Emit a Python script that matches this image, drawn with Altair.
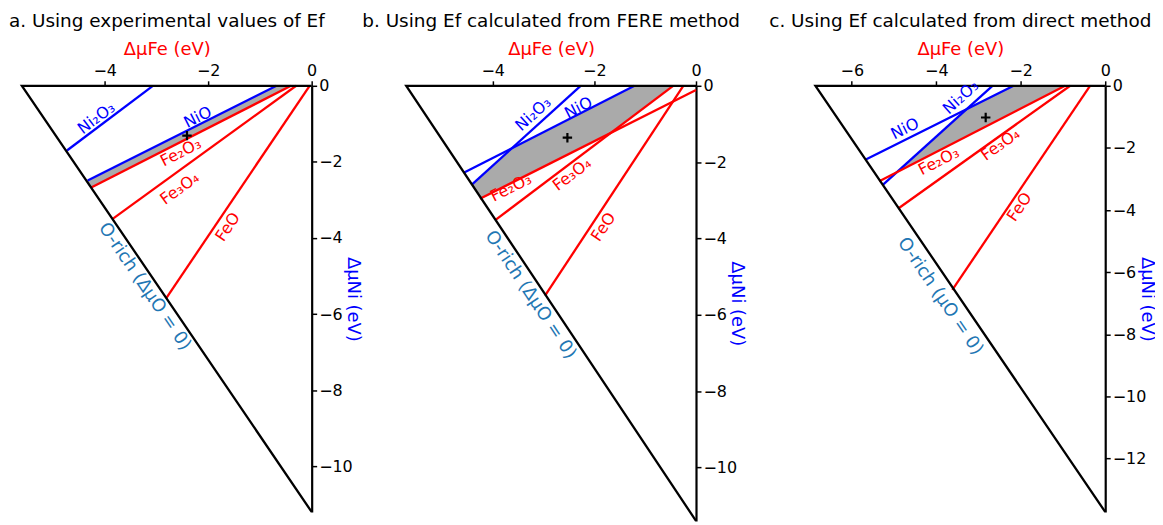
import math
import altair as alt
import pandas as pd

# ---------------- values ----------------
panel_titles = [
    "a. Using experimental values of Ef",
    "b. Using Ef calculated from FERE method",
    "c. Using Ef calculated from direct method",
]
fe_axis_title = "ΔμFe (eV)"
ni_axis_title = "ΔμNi (eV)"
o_rich_labels = ["O-rich (ΔμO = 0)", "O-rich (ΔμO = 0)", "O-rich (μO = 0)"]

# triangle corners (ΔμFe at ΔμNi = 0, ΔμNi at ΔμFe = 0)
fe_limit = [-5.6, -5.7, -6.86]
ni_limit = [-11.2, -11.4, -13.72]

fe_ticks = [[-4, -2, 0], [-4, -2, 0], [-6, -4, -2, 0]]
ni_ticks = [[0, -2, -4, -6, -8, -10], [0, -2, -4, -6, -8, -10],
            [0, -2, -4, -6, -8, -10, -12]]

compounds = ["Ni₂O₃", "NiO", "Fe₂O₃", "Fe₃O₄", "FeO"]
compound_metal = ["Ni", "Ni", "Fe", "Fe", "Fe"]

# boundary lines: start on the O-rich edge, end on an axis
a_start_fe = [-4.73, -4.33, -4.27, -3.84, -2.81]
a_start_ni = [-1.70, -2.49, -2.68, -3.49, -5.58]
a_end_fe = [-3.07, -0.68, -0.40, -0.30, -0.04]
a_end_ni = [0.0, 0.0, 0.0, 0.0, 0.0]

b_start_fe = [-4.41, -4.57, -4.25, -3.95, -2.97]
b_start_ni = [-2.59, -2.28, -2.96, -3.52, -5.50]
b_end_fe = [-2.27, -1.21, 0.0, -0.45, -0.25]
b_end_ni = [0.0, 0.0, -0.11, 0.0, 0.0]

c_start_fe = [-5.26, -5.68, -5.35, -4.90, -3.62]
c_start_ni = [-3.18, -2.38, -3.07, -3.95, -6.57]
c_end_fe = [-2.67, -2.17, -0.95, -0.83, -0.36]
c_end_ni = [0.0, 0.0, 0.0, 0.0, 0.0]

# compound label anchors
a_label_fe = [-4.16, -2.20, -2.53, -2.55, -1.62]
a_label_ni = [-0.85, -0.83, -1.75, -2.70, -3.71]
b_label_fe = [-3.20, -2.31, -3.64, -2.44, -1.82]
b_label_ni = [-0.74, -0.58, -2.67, -2.32, -3.70]
c_label_fe = [-3.42, -4.74, -3.94, -2.48, -2.03]
c_label_ni = [-0.37, -1.39, -2.43, -1.89, -3.90]

o_rich_fe = [-3.23, -3.26, -3.91]
o_rich_ni = [-5.28, -5.48, -6.78]

marker_fe = [-2.41, -2.53, -2.83]
marker_ni = [-1.31, -1.36, -1.02]

# ---------------- styling ----------------
FONT = "DejaVu Sans"
RED = "#ff0000"
BLUE = "#0000ff"
ORICH = "#1f77b4"
GRAY = "#aaaaaa"
W = 291                      # width of each triangle in pixels
HEIGHTS = [428, 437, 428]
LEFT_PAD = [0, 0, 25]        # empty room left of the triangle (sets the gap before panel c)

starts_fe = [a_start_fe, b_start_fe, c_start_fe]
starts_ni = [a_start_ni, b_start_ni, c_start_ni]
ends_fe = [a_end_fe, b_end_fe, c_end_fe]
ends_ni = [a_end_ni, b_end_ni, c_end_ni]
labels_fe = [a_label_fe, b_label_fe, c_label_fe]
labels_ni = [a_label_ni, b_label_ni, c_label_ni]


def line_coeffs(x1, y1, x2, y2):
    m = (y2 - y1) / (x2 - x1)
    return m, y1 - m * x1


def stable_region(i):
    """NiFe2O4 stability polygon: below every Ni-oxide line and y=0,
    above every Fe-oxide line and the O-rich edge."""
    blue, red = [], []
    for k in range(len(compounds)):
        co = line_coeffs(starts_fe[i][k], starts_ni[i][k], ends_fe[i][k], ends_ni[i][k])
        (blue if compound_metal[k] == "Ni" else red).append(co)
    hyp = line_coeffs(fe_limit[i], 0.0, 0.0, ni_limit[i])
    top = (0.0, 0.0)
    allc = blue + red + [hyp, top]
    xs = set()
    for p in range(len(allc)):
        for q in range(p + 1, len(allc)):
            m1, c1 = allc[p]
            m2, c2 = allc[q]
            if abs(m1 - m2) > 1e-12:
                xs.add((c2 - c1) / (m1 - m2))
    rows = []
    for x in sorted(xs):
        if x < fe_limit[i] - 1e-9 or x > 1e-9:
            continue
        up = min([0.0] + [m * x + c for m, c in blue])
        lo = max([hyp[0] * x + hyp[1]] + [m * x + c for m, c in red])
        if up - lo >= -1e-9:
            rows.append({"x": x, "yu": up, "yl": min(lo, up)})
    return pd.DataFrame(rows)


def panel(i):
    H = HEIGHTS[i]
    sx = W / abs(fe_limit[i])
    sy = H / abs(ni_limit[i])
    pw = W + LEFT_PAD[i]
    x_lo = fe_limit[i] - LEFT_PAD[i] / sx
    xscale = alt.Scale(domain=[x_lo, 0], nice=False, zero=False)
    yscale = alt.Scale(domain=[ni_limit[i], 0], nice=False, zero=False)
    xaxis = alt.Axis(orient="top", values=fe_ticks[i], title=fe_axis_title, format="d",
                     titleColor=RED, titleFont=FONT, titleFontSize=18, titleFontWeight="normal",
                     titlePadding=4, titleX=pw - W / 2,
                     labelFont=FONT, labelFontSize=16, labelColor="black",
                     labelFlush=False, labelOverlap=False, labelPadding=2, tickSize=5,
                     tickWidth=1.5, tickColor="black", domain=False, grid=False)
    yaxis = alt.Axis(orient="right", values=ni_ticks[i], title=ni_axis_title, format="d",
                     titleColor=BLUE, titleFont=FONT, titleFontSize=18, titleFontWeight="normal",
                     titleAngle=90, titleBaseline="bottom", titleX=32, titleY=H / 2,
                     labelFont=FONT, labelFontSize=16, labelColor="black",
                     labelFlush=False, labelOverlap=False, labelPadding=2, tickSize=5,
                     tickWidth=1.5, tickColor="black", domainColor="black", domainWidth=2.2,
                     grid=False)

    def X(field):
        return alt.X(f"{field}:Q", scale=xscale, axis=xaxis)

    def Y(field):
        return alt.Y(f"{field}:Q", scale=yscale, axis=yaxis)

    # boundary lines
    lrows = []
    for k, name in enumerate(compounds):
        col = BLUE if compound_metal[k] == "Ni" else RED
        lrows.append({"c": name, "x": starts_fe[i][k], "y": starts_ni[i][k], "o": 0, "col": col})
        lrows.append({"c": name, "x": ends_fe[i][k], "y": ends_ni[i][k], "o": 1, "col": col})
    ldf = pd.DataFrame(lrows)

    # labels parallel to their lines
    trows = []
    for k, name in enumerate(compounds):
        dx = (ends_fe[i][k] - starts_fe[i][k]) * sx
        dy = -(ends_ni[i][k] - starts_ni[i][k]) * sy
        ang = math.degrees(math.atan2(dy, dx)) % 360
        col = BLUE if compound_metal[k] == "Ni" else RED
        trows.append({"x": labels_fe[i][k], "y": labels_ni[i][k], "t": name,
                      "a": ang, "col": col})
    tdf = pd.DataFrame(trows)

    # triangle outline: bottom corner -> O-rich corner -> origin
    edge = pd.DataFrame({"x": [0.0, fe_limit[i], 0.0], "y": [ni_limit[i], 0.0, 0.0],
                         "o": [0, 1, 2]})
    hyp_ang = math.degrees(math.atan2(abs(ni_limit[i]) * sy, abs(fe_limit[i]) * sx))
    odf = pd.DataFrame({"x": [o_rich_fe[i]], "y": [o_rich_ni[i]], "t": [o_rich_labels[i]],
                        "a": [hyp_ang]})
    mdf = pd.DataFrame({"x": [marker_fe[i]], "y": [marker_ni[i]]})

    area = alt.Chart(stable_region(i)).mark_area(color=GRAY, opacity=1).encode(
        x=X("x"), y=Y("yu"), y2="yl")
    lines = alt.Chart(ldf).mark_line(strokeWidth=2.3).encode(
        x=X("x"), y=Y("y"), detail="c:N", order="o:Q",
        color=alt.Color("col:N", scale=None))
    outline = alt.Chart(edge).mark_line(strokeWidth=2.3, color="black").encode(
        x=X("x"), y=Y("y"), order="o:Q")
    texts = alt.Chart(tdf).mark_text(font=FONT, fontSize=16, baseline="middle",
                                     align="center").encode(
        x=X("x"), y=Y("y"), text="t:N", angle=alt.Angle("a:Q", scale=None),
        color=alt.Color("col:N", scale=None))
    orich = alt.Chart(odf).mark_text(font=FONT, fontSize=18, baseline="middle",
                                     align="center", color=ORICH).encode(
        x=X("x"), y=Y("y"), text="t:N", angle=alt.Angle("a:Q", scale=None))
    marker = alt.Chart(mdf).mark_point(shape="M-1,0L1,0M0,-1L0,1", size=90, filled=False,
                                       strokeWidth=2.2, color="black", opacity=1).encode(
        x=X("x"), y=Y("y"))

    return alt.layer(area, lines, outline, texts, orich, marker).properties(
        width=pw, height=H,
        title=alt.TitleParams(panel_titles[i], font=FONT, fontSize=18.5, fontWeight="normal",
                              color="black", anchor="middle", frame="group", offset=11,
                              dx=LEFT_PAD[i] / 2))


chart = alt.hconcat(panel(0), panel(1), panel(2), spacing=95, bounds="flush").properties(
    padding={"left": 0, "top": 2, "right": 0, "bottom": 0}
).configure_view(stroke=None)

chart.save("out.html", embed_options={"renderer": "svg", "actions": False})
